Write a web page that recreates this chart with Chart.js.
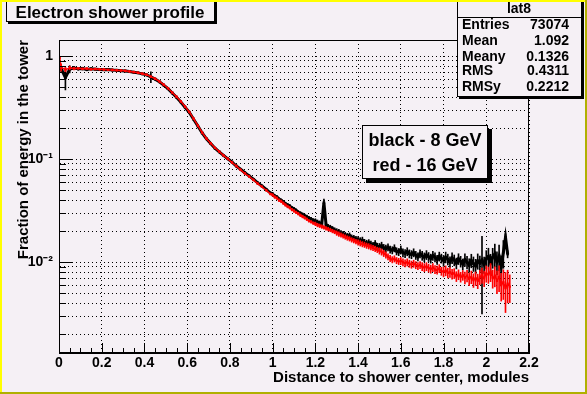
<!DOCTYPE html>
<html>
<head>
<meta charset="utf-8">
<script src="https://cdn.jsdelivr.net/npm/chart.js@4"></script>
<style>
html,body{margin:0;padding:0;background:#f5f0f5;overflow:hidden;}
canvas{display:block;}
</style>
</head>
<body>
<canvas id="c" width="587" height="394"></canvas>
<script>
// ---- data ----
const xValues = [0.003,
0.01,0.03,0.05,0.07,0.09,0.11,0.13,0.15,0.17,0.19,
0.21,0.23,0.25,0.27,0.29,0.31,0.33,0.35,0.37,0.39,
0.41,0.43,0.45,0.47,0.49,0.51,0.53,0.55,0.57,0.59,
0.61,0.63,0.65,0.67,0.69,0.71,0.73,0.75,0.77,0.79,
0.81,0.83,0.85,0.87,0.89,0.91,0.93,0.95,0.97,0.99,
1.00,1.01,1.02,1.03,1.04,1.05,1.06,1.07,1.08,1.09,
1.10,1.11,1.12,1.13,1.14,1.15,1.16,1.17,1.18,1.19,
1.20,1.21,1.22,1.23,1.24,1.25,1.26,1.27,1.28,1.29,
1.30,1.31,1.32,1.33,1.34,1.35,1.36,1.37,1.38,1.39,
1.40,1.41,1.42,1.43,1.44,1.45,1.46,1.47,1.48,1.49,
1.50,1.51,1.52,1.53,1.54,1.55,1.56,1.57,1.58,1.59,
1.60,1.61,1.62,1.63,1.64,1.65,1.66,1.67,1.68,1.69,
1.70,1.71,1.72,1.73,1.74,1.75,1.76,1.77,1.78,1.79,
1.80,1.81,1.82,1.83,1.84,1.85,1.86,1.87,1.88,1.89,
1.90,1.91,1.92,1.93,1.94,1.95,1.96,1.97,1.98,1.99,
2.00,2.01,2.02,2.03,2.04,2.05,2.06,2.07,2.08,2.09,
2.10,2.11,2.12];

const black8GeV = [0.78,
0.76,0.62,0.75,0.77,0.755,0.76,0.745,0.755,0.75,0.745,
0.74,0.742,0.735,0.73,0.725,0.72,0.71,0.70,0.69,0.675,
0.66,0.63,0.60,0.565,0.525,0.485,0.44,0.40,0.36,0.32,
0.285,0.245,0.21,0.18,0.158,0.142,0.128,0.118,0.109,0.101,
0.094,0.086,0.080,0.074,0.069,0.064,0.059,0.055,0.051,0.047,
0.046,0.044,0.043,0.041,0.040,0.0385,0.037,0.036,0.0352,0.0338,
0.0328,0.0318,0.0305,0.0298,0.0290,0.0282,0.0276,0.0268,0.0262,0.0255,
0.0252,0.0245,0.0240,0.0236,0.038,0.0232,0.0222,0.0218,0.0212,0.0206,
0.0200,0.0197,0.0192,0.0188,0.0184,0.0180,0.0182,0.0174,0.0172,0.0168,
0.0166,0.0162,0.0164,0.0156,0.0153,0.0155,0.0150,0.0146,0.0152,0.0143,
0.0141,0.0145,0.0138,0.0136,0.0140,0.0133,0.0131,0.0137,0.0128,0.0126,
0.0132,0.0124,0.0122,0.0127,0.0121,0.0119,0.0124,0.0117,0.0113,0.0121,
0.0116,0.0112,0.0118,0.0113,0.0109,0.0116,0.0112,0.0106,0.0114,0.0109,
0.0104,0.0112,0.0107,0.0101,0.0110,0.0105,0.0098,0.0108,0.0102,0.0096,
0.0106,0.0100,0.0094,0.0104,0.0097,0.0092,0.0103,0.0098,0.0105,0.0095,
0.0108,0.0114,0.0098,0.0112,0.0120,0.0101,0.0115,0.0090,0.0125,0.0175,
0.0120,null,null];

const black8GeVErrPct = [4,
6,24,8,4,3,3,3,2,2,2,
2,2,2,2,2,2,2,2,2,2,
2,12,2,2,2,2,2,2,2,2,
2,2,2,2,2,2,2,2,2,2,
2,2,2,2,2,2,2,2,2,2,
3,3,3,3,3,3,3,3,3,3,
4,4,4,4,4,4,4,4,4,4,
5,5,5,5,8,5,5,5,5,5,
6,6,6,6,6,6,6,6,6,6,
7,7,7,7,7,7,7,7,7,7,
8,8,8,8,8,8,8,8,8,8,
9,9,9,9,9,9,9,9,9,9,
10,10,10,10,10,10,10,10,10,10,
12,12,12,12,12,12,12,12,12,12,
14,14,15,15,16,16,17,17,70,18,
20,20,22,22,25,25,28,28,30,8,
8,0,0];

const red16GeV = [0.97,
0.78,0.74,0.77,0.76,0.765,0.755,0.76,0.75,0.752,0.748,
0.745,0.738,0.737,0.732,0.728,0.722,0.713,0.703,0.692,0.678,
0.662,0.635,0.605,0.57,0.53,0.49,0.445,0.405,0.365,0.325,
0.288,0.248,0.212,0.182,0.159,0.143,0.129,0.119,0.109,0.101,
0.093,0.086,0.079,0.073,0.068,0.063,0.058,0.054,0.050,0.046,
0.045,0.043,0.042,0.040,0.039,0.0375,0.036,0.0348,0.0338,0.0325,
0.0315,0.0305,0.0296,0.0286,0.0278,0.0270,0.0262,0.0252,0.0247,0.0240,
0.0236,0.0230,0.0226,0.0222,0.0218,0.0214,0.0210,0.0206,0.0201,0.0197,
0.0192,0.0188,0.0184,0.0180,0.0176,0.0172,0.0169,0.0165,0.0162,0.0159,
0.0156,0.0153,0.0150,0.0148,0.0145,0.0143,0.0140,0.0138,0.0135,0.0132,
0.0129,0.0126,0.0122,0.0118,0.0113,0.0109,0.0106,0.0108,0.0104,0.0102,
0.0103,0.0100,0.0098,0.0100,0.0097,0.0095,0.0097,0.0094,0.0092,0.0094,
0.0091,0.0089,0.0091,0.0088,0.0086,0.0089,0.0085,0.0084,0.0087,0.0082,
0.0081,0.0083,0.0079,0.0080,0.0077,0.0078,0.0073,0.0076,0.0072,0.0075,
0.0071,0.0074,0.0069,0.0072,0.0067,0.0070,0.0066,0.0072,0.0075,0.0070,
0.0078,0.0076,0.0081,0.0070,0.0074,0.0066,0.0072,0.0060,0.0064,0.0056,
0.0062,0.0058,null];

const red16GeVErrPct = [3,
8,6,4,3,2,2,2,2,2,2,
2,2,2,2,2,2,2,2,2,2,
2,2,2,2,2,2,2,2,2,2,
2,2,2,2,2,2,2,2,2,2,
2,2,2,2,2,2,2,2,2,2,
3,3,3,3,3,3,3,3,3,3,
3,3,3,3,3,3,3,3,3,3,
4,4,4,4,4,4,4,4,4,4,
5,5,5,5,5,5,5,5,5,5,
6,6,6,6,6,6,6,6,6,6,
7,7,7,7,7,7,7,7,7,7,
8,8,8,8,8,8,8,8,8,8,
9,9,9,9,9,9,9,9,9,9,
11,11,11,11,11,11,11,11,11,11,
13,13,14,14,15,15,16,16,17,17,
18,18,20,20,22,25,28,30,32,42,
35,30,0];

const yTickLabels = {"1": "1", "0.1": "10\u207B\u00B9", "0.01": "10\u207B\u00B2"};
const titleText = "Electron shower profile";
const xAxisTitle = "Distance to shower center, modules";
const yAxisTitle = "Fraction of energy in the tower";
const statsName = "lat8";
const statsRows = [["Entries","73074"],["Mean","1.092"],["Meany","0.1326"],["RMS","0.4311"],["RMSy","0.2212"]];
const legendLines = ["black - 8 GeV","red - 16 GeV"];

// ---- helpers ----
const BG = "#f5f0f5";
const FONT = '"Liberation Sans", Arial, Helvetica, sans-serif';
function points(vals){ return xValues.map((x,i)=>({x:x, y:vals[i]})); }
function errorBars(vals, pct){
  const out = [];
  xValues.forEach((x,i)=>{
    if (vals[i] == null || !pct[i]) return;
    out.push({x:x, y:[vals[i]*(1-pct[i]/100), vals[i]*(1+pct[i]/100)]});
  });
  return out;
}
function isDecade(v){ const l = Math.log10(v); return Math.abs(l - Math.round(l)) < 1e-9; }
function labelKey(v){ return String(+v.toPrecision(6)); }

function paveBox(ctx, x, y, w, h, shadow){
  ctx.fillStyle = "#000";
  ctx.fillRect(x + shadow, y + shadow, w, h);
  ctx.fillStyle = BG;
  ctx.fillRect(x, y, w, h);
  ctx.strokeStyle = "#000"; ctx.lineWidth = 1;
  ctx.strokeRect(x + 0.5, y + 0.5, w - 1, h - 1);
}

const decor = {
  id: "decor",
  beforeDraw(chart){
    const {ctx, width, height} = chart;
    ctx.save(); ctx.fillStyle = BG; ctx.fillRect(0, 0, width, height); ctx.restore();
  },
  afterDraw(chart){
    const {ctx, width, height} = chart;
    const ca = chart.chartArea, xs = chart.scales.x, ys = chart.scales.y;
    ctx.save();
    ctx.strokeStyle = "#000"; ctx.lineWidth = 1;
    // frame
    ctx.strokeRect(Math.round(ca.left) + 0.5, Math.round(ca.top) + 0.5,
                   Math.round(ca.right - ca.left) - 1, Math.round(ca.bottom - ca.top) - 1);
    // y tick marks (inside)
    ys.ticks.forEach(t => {
      const py = Math.round(ys.getPixelForValue(t.value)) + 0.5;
      const len = isDecade(t.value) ? 14 : 7;
      ctx.beginPath(); ctx.moveTo(ca.left, py); ctx.lineTo(ca.left + len, py); ctx.stroke();
    });
    // x tick marks (inside), major 0.2, minor 0.05
    for (let k = 0; k <= 44; k++){
      const px = Math.round(xs.getPixelForValue(k * 0.05)) + 0.5;
      const len = (k % 4 === 0) ? 10 : 5;
      ctx.beginPath(); ctx.moveTo(px, ca.bottom); ctx.lineTo(px, ca.bottom - len); ctx.stroke();
    }
    // title box
    paveBox(ctx, 6, -2, 209, 24, 2);
    ctx.fillStyle = "#000";
    ctx.font = "bold 17px " + FONT;
    ctx.textAlign = "center"; ctx.textBaseline = "middle";
    ctx.fillText(titleText, 110, 13);
    // stats box
    paveBox(ctx, 457, -1, 125, 98, 2);
    ctx.beginPath(); ctx.moveTo(457, 17.5); ctx.lineTo(582, 17.5); ctx.stroke();
    ctx.fillStyle = "#000";
    ctx.font = "bold 14px " + FONT;
    ctx.textAlign = "center";
    ctx.fillText(statsName, 519, 9);
    const rowY = [25, 41, 57, 71, 87];
    statsRows.forEach((r, i) => {
      ctx.textAlign = "left"; ctx.fillText(r[0], 462, rowY[i]);
      ctx.textAlign = "right"; ctx.fillText(r[1], 569, rowY[i]);
    });
    // legend box
    paveBox(ctx, 362, 125, 126, 54, 4);
    ctx.fillStyle = "#000";
    ctx.font = "bold 18px " + FONT;
    ctx.textAlign = "center";
    ctx.fillText(legendLines[0], 425, 141);
    ctx.fillText(legendLines[1], 425, 166);
    // canvas border
    ctx.fillStyle = "#ffff00";
    ctx.fillRect(0, 0, width, 2); ctx.fillRect(0, 0, 2, height);
    ctx.fillStyle = "#b0b000";
    ctx.fillRect(width - 2, 0, 2, height); ctx.fillRect(0, height - 2, width, 2);
    ctx.restore();
  }
};

const tickFont = {family: FONT, size: 14, weight: "bold"};
const titleFont = {family: FONT, size: 15, weight: "bold"};

new Chart(document.getElementById("c"), {
  type: "line",
  data: {
    datasets: [
      {type: "line", label: "red - 16 GeV", data: points(red16GeV), borderColor: "#ff0000",
       backgroundColor: "#ff0000", borderWidth: 1.5, pointRadius: 1.6, pointStyle: "rect",
       pointBorderWidth: 0, spanGaps: false, tension: 0, order: 1},
      {type: "bar", label: "red errors", data: errorBars(red16GeV, red16GeVErrPct),
       backgroundColor: "#ff0000", barThickness: 1, grouped: false, order: 2},
      {type: "line", label: "black - 8 GeV", data: points(black8GeV), borderColor: "#000000",
       backgroundColor: "#000000", borderWidth: 3, pointRadius: 1.8, pointStyle: "rect",
       pointBorderWidth: 0, spanGaps: false, tension: 0, order: 3},
      {type: "bar", label: "black errors", data: errorBars(black8GeV, black8GeVErrPct),
       backgroundColor: "#000000", barThickness: 1, grouped: false, order: 4}
    ]
  },
  options: {
    responsive: false,
    animation: false,
    devicePixelRatio: 1,
    layout: {padding: {left: 0, top: 40, right: 58, bottom: 0}},
    plugins: {legend: {display: false}, tooltip: {enabled: false}, title: {display: false}},
    scales: {
      x: {
        type: "linear", min: 0, max: 2.2, offset: false,
        ticks: {stepSize: 0.2, font: tickFont, color: "#000", padding: 2, maxRotation: 0, autoSkip: false,
                callback: v => String(+(+v).toFixed(1))},
        grid: {color: "#000", lineWidth: 1, drawTicks: false, offset: false},
        border: {display: true, color: "#000", width: 1, dash: [1, 3]},
        title: {display: true, text: xAxisTitle, align: "end", font: titleFont, color: "#000",
                padding: {top: 0, bottom: 7}},
        afterFit: s => { s.height = 41; }
      },
      y: {
        type: "logarithmic", min: 0.001315, max: 1.439,
        afterBuildTicks: axis => {
          const t = [];
          [0.001, 0.01, 0.1, 1].forEach(d => {
            for (let k = 1; k <= 9; k++){
              const v = +(d * k).toPrecision(6);
              if (v >= axis.min && v <= axis.max) t.push({value: v});
            }
          });
          axis.ticks = t;
        },
        ticks: {font: tickFont, color: "#000", padding: 6, autoSkip: false,
                callback: v => yTickLabels[labelKey(v)] || ""},
        grid: {color: "#000", lineWidth: 1, drawTicks: false},
        border: {display: true, color: "#000", width: 1, dash: [1, 3]},
        title: {display: true, text: yAxisTitle, align: "end", font: titleFont, color: "#000",
                padding: {top: 15, bottom: 0}},
        afterFit: s => { s.width = 59; }
      }
    }
  },
  plugins: [decor]
});
</script>
</body>
</html>
